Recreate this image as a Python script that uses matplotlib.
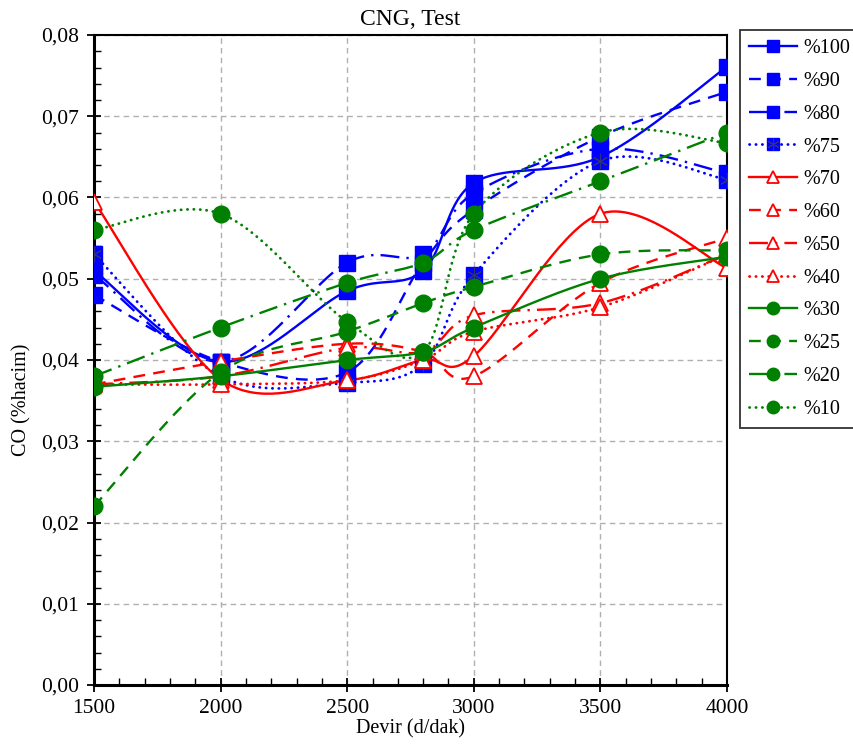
import numpy as np
import matplotlib
matplotlib.use("Agg")
import matplotlib.pyplot as plt
from matplotlib.lines import Line2D
from matplotlib.ticker import MultipleLocator, FuncFormatter
from matplotlib.legend_handler import HandlerTuple

plt.rcParams['font.family'] = ['Liberation Serif', 'DejaVu Serif']

rpm = [1500, 2000, 2500, 2800, 3000, 3500, 4000]

labels = ['%100', '%90', '%80', '%75', '%70', '%60', '%50', '%40',
          '%30', '%25', '%20', '%10']

p100 = [0.051, 0.0398, 0.0485, 0.051, 0.0618, 0.065, 0.0761]
p90 = [0.048, 0.0398, 0.0385, 0.052, 0.0585, 0.0675, 0.073]
p80 = [0.0505, 0.0398, 0.052, 0.053, 0.0605, 0.066, 0.063]
p75 = [0.053, 0.038, 0.0372, 0.0395, 0.0505, 0.0645, 0.0622]
p70 = [0.0595, 0.0376, 0.0375, 0.040, 0.0405, 0.058, 0.0513]
p60 = [0.037, 0.0398, 0.042, 0.041, 0.038, 0.0495, 0.055]
p50 = [0.037, 0.038, 0.0415, 0.041, 0.0455, 0.047, 0.053]
p40 = [0.037, 0.037, 0.0375, 0.040, 0.0435, 0.0465, 0.053]
p30 = [0.0367, 0.038, 0.040, 0.041, 0.044, 0.050, 0.0527]
p25 = [0.022, 0.0385, 0.0435, 0.047, 0.049, 0.053, 0.0535]
p20 = [0.038, 0.044, 0.0495, 0.052, 0.056, 0.062, 0.068]
p10 = [0.056, 0.058, 0.0447, 0.041, 0.058, 0.068, 0.0667]

series = [p100, p90, p80, p75, p70, p60, p50, p40, p30, p25, p20, p10]

solid = '-'
dashed = (0, (5, 3.5))
dashdot = (0, (8, 3, 1, 3))
dotted = (0, (0.1, 2.2))
styles = [solid, dashed, dashdot, dotted] * 3
colors = ['#0000FF'] * 4 + ['#FF0000'] * 4 + ['#008000'] * 4
markers = ['s'] * 4 + ['^'] * 4 + ['o'] * 4


def smooth(xs, ys, n=40):
    P = np.column_stack([xs, ys]).astype(float)
    P = np.vstack([P[0], P, P[-1]])
    out = []
    for i in range(1, len(P) - 2):
        p0, p1, p2, p3 = P[i - 1], P[i], P[i + 1], P[i + 2]
        c1 = p1 + (p2 - p0) / 6.0
        c2 = p2 - (p3 - p1) / 6.0
        t = np.linspace(0, 1, n)[:, None]
        seg = ((1 - t) ** 3) * p1 + 3 * ((1 - t) ** 2) * t * c1 + 3 * (1 - t) * t ** 2 * c2 + t ** 3 * p2
        out.append(seg if i == 1 else seg[1:])
    out = np.vstack(out)
    return out[:, 0], out[:, 1]


fig = plt.figure(figsize=(8.54, 7.44), dpi=100)
ax = fig.add_axes([94 / 854, 1 - 685 / 744, (727 - 94) / 854, (685 - 35) / 744])

ax.grid(True, which='major', color='#b0b0b0', linestyle=(0, (4, 3)), linewidth=1.0)
ax.set_axisbelow(True)

handles = []
for i, (ys, lab) in enumerate(zip(series, labels)):
    c = colors[i]
    ls = styles[i]
    lw = 2.0 if ls is dotted else 1.7
    cap = 'round' if ls is dotted else 'butt'
    sx, sy = smooth(rpm, ys)
    ax.plot(sx, sy, color=c, linestyle=ls, linewidth=lw, dash_capstyle=cap, zorder=2 + i * 0.1)
    if markers[i] == '^':
        ax.plot(rpm, ys, linestyle='none', marker='^', markersize=11,
                markerfacecolor='white', markeredgecolor=c, markeredgewidth=1.3, zorder=3 + i * 0.1)
        h = Line2D([], [], color=c, linestyle=ls, linewidth=lw, dash_capstyle=cap,
                   marker='^', markersize=9,
                   markerfacecolor='white', markeredgecolor=c, markeredgewidth=1.3)
    else:
        ms = 11 if markers[i] == 's' else 12
        ax.plot(rpm, ys, linestyle='none', marker=markers[i], markersize=ms,
                color=c, zorder=3 + i * 0.1)
        h = Line2D([], [], color=c, linestyle=ls, linewidth=lw, dash_capstyle=cap,
                   marker=markers[i], markersize=9)
        if lab == '%75':
            ax.plot(rpm, ys, linestyle='none', marker=(6, 2, 0), markersize=11,
                    markeredgecolor='#303080', markeredgewidth=0.8, zorder=3.05 + i * 0.1)
            h2 = Line2D([], [], linestyle='none', marker=(6, 2, 0), markersize=9,
                        markeredgecolor='#303080', markeredgewidth=0.8)
            h = (h, h2)
    handles.append(h)

ax.set_xlim(1500, 4000)
ax.set_ylim(0, 0.08)
ax.xaxis.set_major_locator(MultipleLocator(500))
ax.xaxis.set_minor_locator(MultipleLocator(100))
ax.yaxis.set_major_locator(MultipleLocator(0.01))
ax.yaxis.set_minor_locator(MultipleLocator(0.002))
ax.yaxis.set_major_formatter(FuncFormatter(lambda v, p: f"{v:.2f}".replace('.', ',')))
ax.tick_params(which='major', direction='inout', length=10, width=1.3, labelsize=15.5, colors='black')
ax.tick_params(which='minor', direction='in', length=5, width=1.0)
ax.tick_params(axis='x', which='major', pad=5)
ax.tick_params(axis='y', which='major', pad=6)
for s in ['left', 'bottom']:
    ax.spines[s].set_linewidth(2.2)
for s in ['top', 'right']:
    ax.spines[s].set_linewidth(1.5)

ax.set_title('CNG, Test', fontsize=17, pad=7)
ax.set_xlabel('Devir (d/dak)', fontsize=14.5)
ax.xaxis.set_label_coords(0.50, -0.052)
ax.set_ylabel('CO (%hacim)', fontsize=14.5)
ax.yaxis.set_label_coords(-0.098, 0.438)

leg = fig.legend(handles, labels, loc='upper left', bbox_to_anchor=(740 / 854, 1 - 30 / 744),
                 frameon=True, fancybox=False, edgecolor='black', fontsize=14.5,
                 handlelength=2.4, handletextpad=0.3, labelspacing=0.68, borderpad=0.45,
                 borderaxespad=0,
                 handler_map={tuple: HandlerTuple(ndivide=1, pad=0)})
leg.get_frame().set_linewidth(1.3)

fig.savefig('out.png', dpi=100)
